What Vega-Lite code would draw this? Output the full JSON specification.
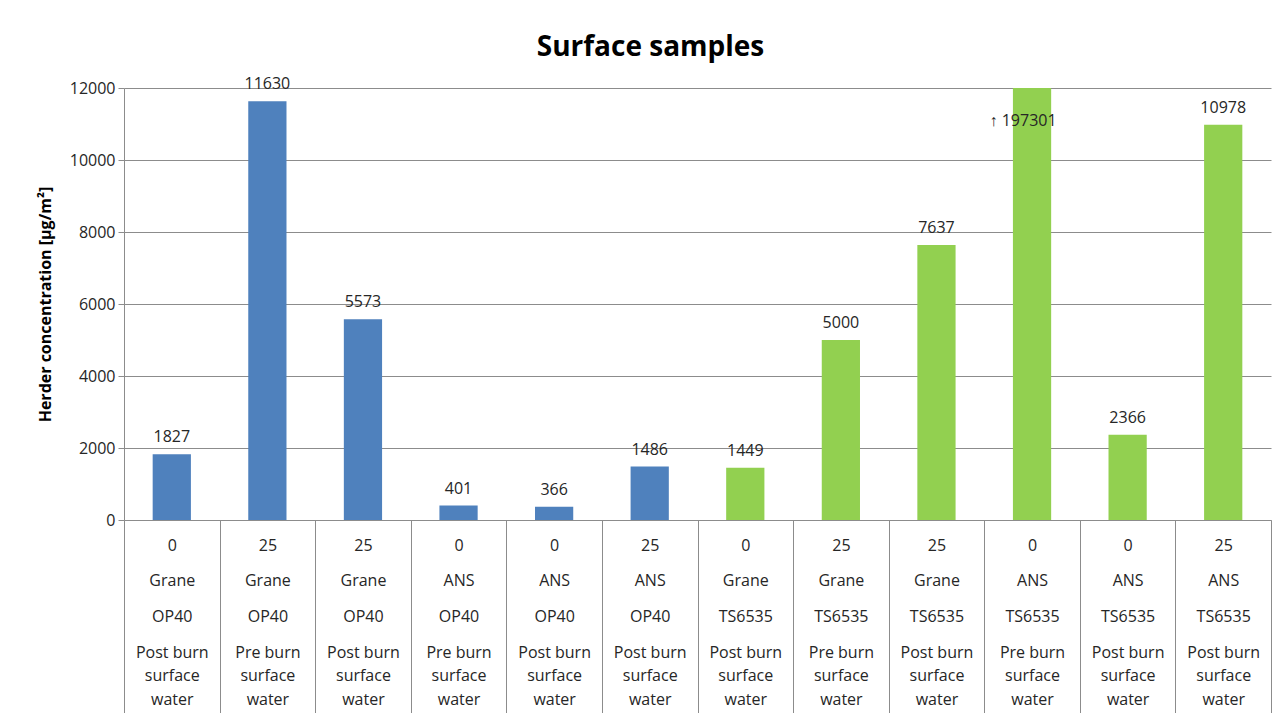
{
  "$schema": "https://vega.github.io/schema/vega-lite/v6.json",
  "width": 1147,
  "height": 432,
  "autosize": {"type": "none"},
  "padding": {"left": 124, "top": 88, "right": 11, "bottom": 193},
  "background": "white",
  "config": {"view": {"stroke": null}, "font": "Open Sans"},
  "title": {"text": "Surface samples", "fontSize": 28, "font": "Open Sans", "fontWeight": "bold", "color": "#000000", "anchor": "middle", "dx": -47, "offset": 14},
  "data": {"values": [
    {"temp": 0, "oil": "Grane", "herder": "OP40", "sample": "Post burn surface water", "value": 1827},
    {"temp": 25, "oil": "Grane", "herder": "OP40", "sample": "Pre burn surface water", "value": 11630},
    {"temp": 25, "oil": "Grane", "herder": "OP40", "sample": "Post burn surface water", "value": 5573},
    {"temp": 0, "oil": "ANS", "herder": "OP40", "sample": "Pre burn surface water", "value": 401},
    {"temp": 0, "oil": "ANS", "herder": "OP40", "sample": "Post burn surface water", "value": 366},
    {"temp": 25, "oil": "ANS", "herder": "OP40", "sample": "Post burn surface water", "value": 1486},
    {"temp": 0, "oil": "Grane", "herder": "TS6535", "sample": "Post burn surface water", "value": 1449},
    {"temp": 25, "oil": "Grane", "herder": "TS6535", "sample": "Pre burn surface water", "value": 5000},
    {"temp": 25, "oil": "Grane", "herder": "TS6535", "sample": "Post burn surface water", "value": 7637},
    {"temp": 0, "oil": "ANS", "herder": "TS6535", "sample": "Pre burn surface water", "value": 197301},
    {"temp": 0, "oil": "ANS", "herder": "TS6535", "sample": "Post burn surface water", "value": 2366},
    {"temp": 25, "oil": "ANS", "herder": "TS6535", "sample": "Post burn surface water", "value": 10978}
  ]},
  "transform": [
    {"calculate": "datum.temp + '|\u2800|\u2800|' + datum.oil + '|\u2800|\u2800|' + datum.herder + '|\u2800|\u2800|' + replace(replace(datum.sample, ' surface', '|\u2800|surface'), ' water', '|\u2800|water')", "as": "key"}
  ],
  "encoding": {
    "x": {
      "field": "key", "type": "nominal", "sort": null,
      "scale": {"paddingInner": 0, "paddingOuter": 0},
      "axis": {
        "title": null,
        "labelAngle": 0,
        "labelExpr": "split(datum.label, '|')",
        "labelLineHeight": 11.9,
        "labelFontSize": 16,
        "labelColor": "#262626",
        "labelBaseline": "top",
        "labelOverlap": false,
        "labelBound": false,
        "labelFlush": false,
        "tickBand": "extent",
        "tickSize": 200,
        "tickColor": "#8c8c8c",
        "domainColor": "#8c8c8c",
        "labelPadding": -183
      }
    },
    "y": {
      "field": "value", "type": "quantitative",
      "scale": {"domain": [0, 12000], "clamp": true, "nice": false},
      "axis": {
        "values": [0, 2000, 4000, 6000, 8000, 10000, 12000],
        "format": "d",
        "grid": true,
        "gridColor": "#8c8c8c",
        "domainColor": "#8c8c8c",
        "tickColor": "#8c8c8c",
        "tickSize": 6,
        "labelFontSize": 16,
        "labelColor": "#262626",
        "labelPadding": 3,
        "title": "Herder concentration [µg/m²]",
        "titleFontSize": 16,
        "titleFontWeight": "bold",
        "titleColor": "#000000",
        "titlePadding": 16
      }
    }
  },
  "layer": [
    {
      "mark": {"type": "bar", "width": {"band": 0.4}},
      "encoding": {
        "color": {"field": "herder", "type": "nominal", "scale": {"domain": ["OP40", "TS6535"], "range": ["#4F81BD", "#92D050"]}, "legend": null}
      }
    },
    {
      "transform": [{"filter": "datum.value <= 12000"}],
      "mark": {"type": "text", "baseline": "bottom", "dy": -9, "fontSize": 16, "color": "#262626"},
      "encoding": {"text": {"field": "value", "type": "quantitative", "format": "d"}}
    },
    {
      "transform": [{"filter": "datum.value > 12000"}, {"calculate": "'↑ ' + datum.value", "as": "lab"}],
      "mark": {"type": "text", "baseline": "middle", "dy": 33, "dx": -9, "fontSize": 16, "color": "#262626"},
      "encoding": {"text": {"field": "lab", "type": "nominal"}}
    }
  ]
}
